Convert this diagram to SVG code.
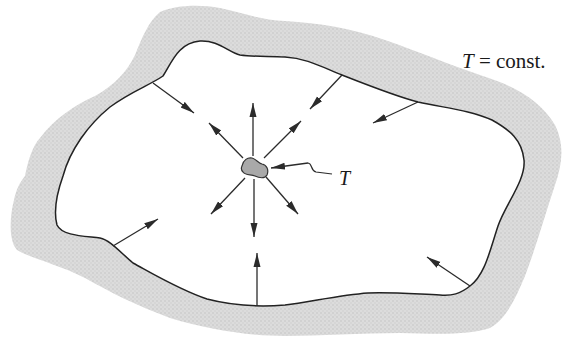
<svg xmlns="http://www.w3.org/2000/svg" width="570" height="352" viewBox="0 0 570 352">
<style>
.ar{stroke:#2b2b2b;stroke-width:1.3;fill:none;marker-end:url(#ah)}
.lbl{font-family:"Liberation Serif","Times New Roman",serif;fill:#1a1a1a}
</style>
<defs>
<pattern id="dots" width="4" height="4" patternUnits="userSpaceOnUse">
<rect width="4" height="4" fill="#dcdcdc"/>
<circle cx="1" cy="1" r="0.8" fill="#c4c4c4"/>
<circle cx="3" cy="3" r="0.7" fill="#cdcdcd"/>
</pattern>
<marker id="ah" markerUnits="userSpaceOnUse" markerWidth="16" markerHeight="9" refX="14" refY="4" orient="auto">
<path d="M0,0.5 L14,4 L0,7.5 Z" fill="#2b2b2b"/>
</marker>
</defs>
<rect width="570" height="352" fill="#ffffff"/>
<g id="wall">
<path d="M25,176 C28,160 33,145 40,138 C55,118 75,105 95,96 C115,85 128,70 135,55 C142,38 148,22 160,12 C175,5 200,4 220,8 C240,12 260,20 285,21 C320,23 350,28 385,40 C420,52 450,65 480,75 C515,86 540,100 555,125 C565,145 562,165 555,185 C545,215 535,250 525,276 C515,300 505,320 490,328 C470,335 440,334 400,333 C360,333 320,336 285,336 C250,336 210,330 170,318 C135,305 110,292 85,278 C60,265 30,258 17,250 C8,240 10,215 14,200 C16,190 20,182 25,176 Z" fill="url(#dots)"/>
<path d="M63,176 C70,150 88,125 110,107 C130,92 150,85 163,76 C172,62 178,43 200,41 C218,40 228,52 240,55 C255,57 270,56 285,57 C305,58 320,66 342,75 C370,86 395,96 418,102 C445,108 470,110 492,120 C510,130 522,140 524,160 C526,180 505,205 498,226 C490,250 485,275 470,286 C460,294 452,296 440,295 C415,294 390,292 368,293 C340,295 310,302 285,305 C260,307 230,305 207,299 C180,290 155,275 133,263 C120,252 110,240 100,238 C85,236 62,236 57,225 C53,210 58,190 63,176 Z" fill="#ffffff" stroke="#222" stroke-width="1.5"/>
</g>
<g id="source">
<path d="M242,166 C243,160 248,157 252,158 C256,159 258,163 262,164 C267,165 269,170 267,175 C265,179 259,178 255,176 C251,174 246,176 243,172 C241,170 241,168 242,166 Z" fill="#a9a9a9" stroke="#333" stroke-width="1.2"/>
</g>
<g id="labels">
<text class="lbl" x="462" y="68" font-size="21"><tspan font-style="italic">T</tspan> = const.</text>
<text class="lbl" x="339" y="185" font-size="20" font-style="italic">T</text>
</g>
<g id="connectors">
<line class="ar" x1="253" y1="156" x2="253" y2="103"/>
<line class="ar" x1="243" y1="158" x2="209" y2="123"/>
<line class="ar" x1="264" y1="158" x2="301" y2="121"/>
<line class="ar" x1="245" y1="178" x2="211" y2="214"/>
<line class="ar" x1="254" y1="179" x2="254" y2="237"/>
<line class="ar" x1="266" y1="177" x2="298" y2="214"/>
<line class="ar" x1="153" y1="83" x2="194" y2="113"/>
<line class="ar" x1="342" y1="75" x2="310" y2="109"/>
<line class="ar" x1="418" y1="102" x2="373" y2="123"/>
<line class="ar" x1="113" y1="246" x2="158" y2="219"/>
<line class="ar" x1="257" y1="306" x2="257" y2="253"/>
<line class="ar" x1="470" y1="286" x2="427" y2="257"/>
<line class="ar" x1="308" y1="163" x2="271" y2="168"/>
<path d="M308,163 C313,164 310,170 316,172 L332,174" fill="none" stroke="#2b2b2b" stroke-width="1.2"/>
</g>
</svg>
